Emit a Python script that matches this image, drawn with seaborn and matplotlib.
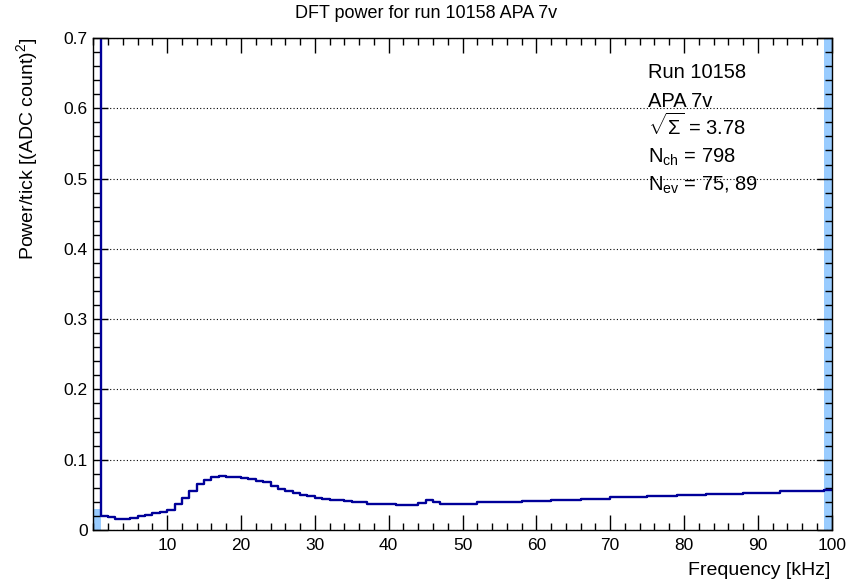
import numpy as np
import pandas as pd
import matplotlib
matplotlib.use("Agg")
import matplotlib.pyplot as plt
from matplotlib.ticker import MultipleLocator
import seaborn as sns

# ---- data (1 kHz bins, 0..100 kHz) ----
bin_edges_khz = list(range(0, 101))
power = [
    1.50, 0.0201, 0.0178, 0.0155, 0.0155, 0.0172, 0.0205, 0.0215, 0.0235, 0.0250,
    0.0291, 0.0376, 0.0460, 0.0556, 0.0648, 0.0714, 0.0751, 0.0768, 0.0755, 0.0751,
    0.0735, 0.0728, 0.0704, 0.0681, 0.0630, 0.0590, 0.0556, 0.0531, 0.0505, 0.0484,
    0.0462, 0.0440, 0.0430, 0.0428, 0.0413, 0.0395, 0.0392, 0.0376, 0.0376, 0.0376,
    0.0376, 0.0362, 0.0362, 0.0362, 0.0385, 0.0432, 0.0398, 0.0376, 0.0376, 0.0376,
    0.0376, 0.0376, 0.0392, 0.0392, 0.0392, 0.0392, 0.0392, 0.0392, 0.0411, 0.0411,
    0.0411, 0.0411, 0.0430, 0.0430, 0.0430, 0.0430, 0.0446, 0.0446, 0.0446, 0.0446,
    0.0465, 0.0465, 0.0465, 0.0465, 0.0465, 0.0482, 0.0482, 0.0482, 0.0482, 0.0498,
    0.0498, 0.0498, 0.0498, 0.0516, 0.0516, 0.0516, 0.0516, 0.0516, 0.0533, 0.0533,
    0.0533, 0.0533, 0.0533, 0.0552, 0.0552, 0.0552, 0.0552, 0.0552, 0.0552, 0.0566,
]
# highlighted (light blue) bins
highlight_bins = [0, 99]
highlight_vals = [0.0305, 1.50]

x_ticks = [10, 20, 30, 40, 50, 60, 70, 80, 90, 100]
y_ticks = [0, 0.1, 0.2, 0.3, 0.4, 0.5, 0.6, 0.7]
y_tick_labels = ["0", "0.1", "0.2", "0.3", "0.4", "0.5", "0.6", "0.7"]

title = "DFT power for run 10158 APA 7v"
xlabel = "Frequency [kHz]"
ylabel = "Power/tick [(ADC count)$^{2}$]"
info_lines = ["Run 10158", "APA 7v", r"$\sqrt{\Sigma}$ = 3.78",
              r"N$_{\mathrm{ch}}$ = 798", r"N$_{\mathrm{ev}}$ = 75, 89"]

# ---- style ----
sns.set_style("white")
plt.rcParams["font.family"] = ["Liberation Sans", "DejaVu Sans"]
plt.rcParams["mathtext.fontset"] = "custom"
plt.rcParams["mathtext.rm"] = "Liberation Sans"
plt.rcParams["mathtext.it"] = "Liberation Sans:italic"
plt.rcParams["mathtext.bf"] = "Liberation Sans:bold"
plt.rcParams["mathtext.sf"] = "Liberation Sans"
for k in ["text.color", "axes.labelcolor", "xtick.color", "ytick.color", "axes.edgecolor"]:
    plt.rcParams[k] = "black"

W, H = 860, 582
fig = plt.figure(figsize=(W / 100, H / 100), dpi=100)
ax = fig.add_axes([93.3 / W, 1 - 530 / H, (831.7 - 93.3) / W, (530 - 38) / H])

centers = [e + 0.5 for e in bin_edges_khz[:-1]]
df = pd.DataFrame({"freq": centers, "power": power})
hl = pd.DataFrame({"freq": [centers[i] for i in highlight_bins], "power": highlight_vals})

sns.histplot(data=hl, x="freq", weights="power", bins=bin_edges_khz, element="bars",
             fill=True, color="#99ccff", alpha=1.0, linewidth=0, ax=ax, zorder=1)
sns.histplot(data=df, x="freq", weights="power", bins=bin_edges_khz, element="step",
             fill=False, color="#000099", linewidth=1.7, ax=ax, zorder=3)

ax.set_xlim(0, 100)
ax.set_ylim(0, 0.7)
ax.set_xlabel("")
ax.set_ylabel("")

ax.set_xticks(x_ticks)
ax.set_xticklabels([str(t) for t in x_ticks])
ax.set_yticks(y_ticks)
ax.set_yticklabels(y_tick_labels)
ax.xaxis.set_minor_locator(MultipleLocator(2))
ax.yaxis.set_minor_locator(MultipleLocator(0.02))
ax.tick_params(which="both", direction="in", top=True, right=True, bottom=True, left=True,
               width=1.0, color="black", labelcolor="black")
ax.tick_params(which="major", length=10.5)
ax.tick_params(which="minor", length=5.2)
ax.tick_params(axis="x", which="major", labelsize=12.5, pad=6)
ax.tick_params(axis="y", which="major", labelsize=12.5, pad=4)

ax.yaxis.grid(True, which="major", linestyle=(0, (1, 2)), color="black", linewidth=0.8)
ax.xaxis.grid(False)
ax.set_axisbelow(False)
for s in ax.spines.values():
    s.set_color("black")
    s.set_linewidth(1.0)
    s.set_zorder(5)

fig.text(426 / W, 1 - 13 / H, title, ha="center", va="center", fontsize=13, color="black")
fig.text(830 / W, 1 - 575 / H, xlabel, ha="right", va="baseline", fontsize=14, color="black")
fig.text(27 / W, 1 - 38 / H, ylabel, ha="center", va="top", rotation=90, fontsize=14,
         color="black")

baselines = [78, 107, 135, 163, 191]
for txt, yb in zip(info_lines, baselines):
    fig.text(648 / W, 1 - yb / H, txt, ha="left", va="baseline", fontsize=14.5, color="black")

fig.savefig("out.png", dpi=100)
